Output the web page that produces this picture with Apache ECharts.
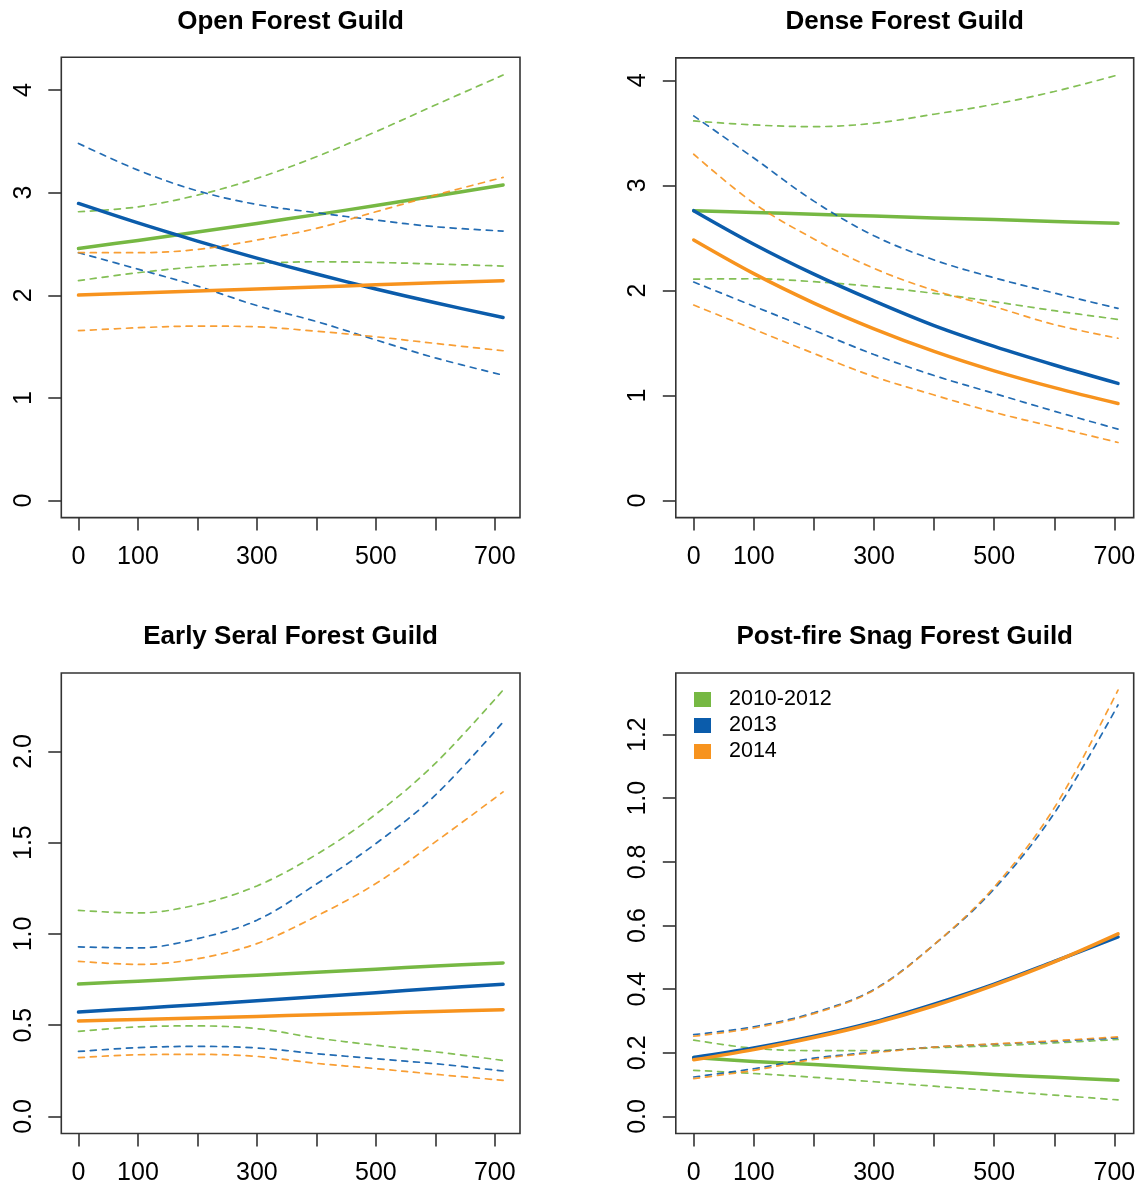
<!DOCTYPE html>
<html><head><meta charset="utf-8">
<script src="https://cdn.jsdelivr.net/npm/echarts@6/dist/echarts.min.js"></script>
<style>html,body{margin:0;padding:0;background:#fff}#c{width:1135px;height:1184px}</style>
</head><body><div id="c"></div>
<script>
// ---------- data ----------
const xLeft  = [0, 100, 200, 300, 400, 500, 600, 714];
const xRight = [0, 100, 200, 300, 400, 500, 600, 706];

const groupNames = ['2010-2012', '2013', '2014'];
const panelTitles = ['Open Forest Guild', 'Dense Forest Guild', 'Early Seral Forest Guild', 'Post-fire Snag Forest Guild'];

const xTickValues  = [0, 100, 200, 300, 400, 500, 600, 700];
const xLabelValues = [0, 100, 300, 500, 700];
const yTicksOpen  = [0, 1, 2, 3, 4];
const yTicksDense = [0, 1, 2, 3, 4];
const yTicksSeral = [0, 0.5, 1.0, 1.5, 2.0];
const yTicksSnag  = [0, 0.2, 0.4, 0.6, 0.8, 1.0, 1.2];

// Open Forest Guild
const openGreen   = [2.457, 2.535, 2.616, 2.700, 2.786, 2.875, 2.967, 3.074];
const openGreenU  = [2.814, 2.862, 2.976, 3.140, 3.350, 3.594, 3.854, 4.146];
const openGreenL  = [2.143, 2.220, 2.278, 2.310, 2.327, 2.320, 2.305, 2.285];
const openBlue    = [2.895, 2.705, 2.528, 2.362, 2.207, 2.062, 1.927, 1.784];
const openBlueU   = [3.480, 3.220, 3.018, 2.885, 2.805, 2.733, 2.668, 2.626];
const openBlueL   = [2.415, 2.255, 2.090, 1.900, 1.745, 1.565, 1.390, 1.222];
const openOrange  = [2.002, 2.022, 2.041, 2.061, 2.081, 2.102, 2.122, 2.142];
const openOrangeU = [2.415, 2.415, 2.447, 2.538, 2.652, 2.814, 2.976, 3.149];
const openOrangeL = [1.655, 1.684, 1.700, 1.693, 1.650, 1.596, 1.531, 1.460];

// Dense Forest Guild
const denseGreen   = [2.759, 2.742, 2.725, 2.708, 2.690, 2.674, 2.657, 2.639];
const denseGreenU  = [3.613, 3.575, 3.559, 3.591, 3.677, 3.772, 3.893, 4.051];
const denseGreenL  = [2.108, 2.111, 2.083, 2.036, 1.972, 1.893, 1.807, 1.724];
const denseBlue    = [2.759, 2.440, 2.155, 1.900, 1.665, 1.467, 1.290, 1.115];
const denseBlueU   = [3.661, 3.260, 2.850, 2.520, 2.290, 2.120, 1.975, 1.829];
const denseBlueL   = [2.080, 1.850, 1.620, 1.390, 1.190, 1.020, 0.851, 0.680];
const denseOrange  = [2.480, 2.160, 1.880, 1.635, 1.420, 1.235, 1.075, 0.924];
const denseOrangeU = [3.296, 2.830, 2.490, 2.210, 2.000, 1.845, 1.675, 1.545];
const denseOrangeL = [1.861, 1.630, 1.400, 1.180, 1.005, 0.840, 0.700, 0.553];

// Early Seral Forest Guild
const seralGreen   = [0.725, 0.741, 0.758, 0.774, 0.790, 0.807, 0.824, 0.841];
const seralGreenU  = [1.129, 1.115, 1.160, 1.263, 1.435, 1.656, 1.934, 2.336];
const seralGreenL  = [0.466, 0.491, 0.496, 0.481, 0.430, 0.390, 0.354, 0.307];
const seralBlue    = [0.572, 0.592, 0.612, 0.634, 0.656, 0.678, 0.701, 0.724];
const seralBlueU   = [0.929, 0.923, 0.974, 1.075, 1.273, 1.495, 1.760, 2.161];
const seralBlueL   = [0.356, 0.377, 0.384, 0.375, 0.344, 0.316, 0.289, 0.249];
const seralOrange  = [0.523, 0.531, 0.540, 0.548, 0.557, 0.566, 0.575, 0.585];
const seralOrangeU = [0.850, 0.833, 0.864, 0.947, 1.097, 1.276, 1.504, 1.778];
const seralOrangeL = [0.322, 0.338, 0.340, 0.329, 0.291, 0.262, 0.231, 0.198];

// Post-fire Snag Forest Guild
const snagGreen   = [0.185, 0.173, 0.163, 0.152, 0.142, 0.132, 0.123, 0.114];
const snagGreenU  = [0.240, 0.214, 0.207, 0.207, 0.216, 0.222, 0.231, 0.242];
const snagGreenL  = [0.145, 0.135, 0.123, 0.109, 0.095, 0.081, 0.067, 0.052];
const snagBlue    = [0.185, 0.215, 0.252, 0.297, 0.353, 0.416, 0.487, 0.564];
const snagBlueU   = [0.257, 0.282, 0.326, 0.399, 0.540, 0.715, 0.953, 1.293];
const snagBlueL   = [0.124, 0.150, 0.183, 0.202, 0.218, 0.227, 0.236, 0.247];
const snagOrange  = [0.178, 0.210, 0.248, 0.293, 0.348, 0.413, 0.486, 0.574];
const snagOrangeU = [0.252, 0.278, 0.323, 0.397, 0.540, 0.721, 0.970, 1.340];
const snagOrangeL = [0.119, 0.145, 0.179, 0.200, 0.218, 0.228, 0.238, 0.250];

// ---------- styling / layout ----------
const colors = ['#76B843', '#0B5CAB', '#F7931E'];
const FONT = '"Liberation Sans", Arial, Helvetica, sans-serif';
const boxColor = '#333';

const panels = [
  { x: xLeft,  lines: [[openGreen, openGreenU, openGreenL], [openBlue, openBlueU, openBlueL], [openOrange, openOrangeU, openOrangeL]],
    yTicks: yTicksOpen, dec: 0, grid: {left: 61.3, top: 57.3, width: 458.7, height: 460.3},
    xr: [-28.9, 742.4], yr: [-0.166, 4.319], title: [290.6, 22] },
  { x: xRight, lines: [[denseGreen, denseGreenU, denseGreenL], [denseBlue, denseBlueU, denseBlueL], [denseOrange, denseOrangeU, denseOrangeL]],
    yTicks: yTicksDense, dec: 0, grid: {left: 675.8, top: 57.9, width: 457.9, height: 459.7},
    xr: [-29.8, 732.1], yr: [-0.162, 4.213], title: [904.7, 22] },
  { x: xLeft,  lines: [[seralGreen, seralGreenU, seralGreenL], [seralBlue, seralBlueU, seralBlueL], [seralOrange, seralOrangeU, seralOrangeL]],
    yTicks: yTicksSeral, dec: 1, grid: {left: 61.3, top: 673.0, width: 458.7, height: 460.5},
    xr: [-28.9, 742.4], yr: [-0.0934, 2.4294], title: [290.6, 637] },
  { x: xRight, lines: [[snagGreen, snagGreenU, snagGreenL], [snagBlue, snagBlueU, snagBlueL], [snagOrange, snagOrangeU, snagOrangeL]],
    yTicks: yTicksSnag, dec: 1, grid: {left: 675.8, top: 673.0, width: 457.9, height: 460.5},
    xr: [-29.8, 732.1], yr: [-0.0536, 1.3936], title: [904.7, 637] }
];

const grids = [], xAxes = [], yAxes = [], series = [], graphics = [];
panels.forEach((p, i) => {
  grids.push(Object.assign({show: true, borderColor: boxColor, borderWidth: 1.6, backgroundColor: 'transparent', containLabel: false, outerBoundsMode: 'none'}, p.grid));
  xAxes.push({
    type: 'value', gridIndex: i, min: p.xr[0], max: p.xr[1], position: 'bottom',
    axisLine: {show: false, onZero: false}, splitLine: {show: false},
    axisTick: {show: true, inside: false, length: 13, customValues: xTickValues, lineStyle: {color: boxColor, width: 1.6}},
    axisLabel: {show: true, customValues: xLabelValues, margin: 27, fontSize: 25, fontFamily: FONT, color: '#000'}
  });
  yAxes.push({
    type: 'value', gridIndex: i, min: p.yr[0], max: p.yr[1], position: 'left',
    axisLine: {show: false, onZero: false}, splitLine: {show: false},
    axisTick: {show: true, inside: false, length: 13, customValues: p.yTicks, lineStyle: {color: boxColor, width: 1.6}},
    axisLabel: {show: true, customValues: p.yTicks, rotate: 90, margin: 25, fontSize: 25, fontFamily: FONT, color: '#000',
      formatter: (v) => Number(v).toFixed(p.dec)}
  });
  p.lines.forEach((trio, g) => {
    trio.forEach((vals, k) => {
      const solid = k === 0;
      series.push({
        type: 'line', name: solid ? groupNames[g] : groupNames[g] + (k === 1 ? ' upper' : ' lower'),
        xAxisIndex: i, yAxisIndex: i,
        data: p.x.map((xv, j) => [xv, vals[j]]),
        showSymbol: false, symbol: 'none', smooth: 0.35, silent: true, animation: false,
        z: 2 + g,
        itemStyle: {color: colors[g]},
        lineStyle: solid ? {color: colors[g], width: 3.5, cap: 'round', join: 'round'}
                         : {color: colors[g], width: 1.7, type: [6, 6], cap: 'round', opacity: 0.9}
      });
    });
  });
  graphics.push({
    type: 'text', x: p.title[0], y: p.title[1], silent: true,
    style: {text: panelTitles[i], font: 'bold 26px ' + FONT, fill: '#000', align: 'center', verticalAlign: 'middle'}
  });
});

const chart = echarts.init(document.getElementById('c'), null, {renderer: 'canvas'});
chart.setOption({
  backgroundColor: '#fff',
  animation: false,
  grid: grids, xAxis: xAxes, yAxis: yAxes, series: series,
  graphic: graphics,
  legend: {
    data: groupNames, orient: 'vertical', left: 694, top: 688.5, padding: 0,
    icon: 'rect', itemWidth: 17, itemHeight: 15, itemGap: 4, selectedMode: false,
    itemStyle: {borderWidth: 0},
    textStyle: {fontSize: 21.5, fontFamily: FONT, color: '#000', lineHeight: 22, padding: [0, 0, 0, 13]}
  }
});
</script>
</body></html>
